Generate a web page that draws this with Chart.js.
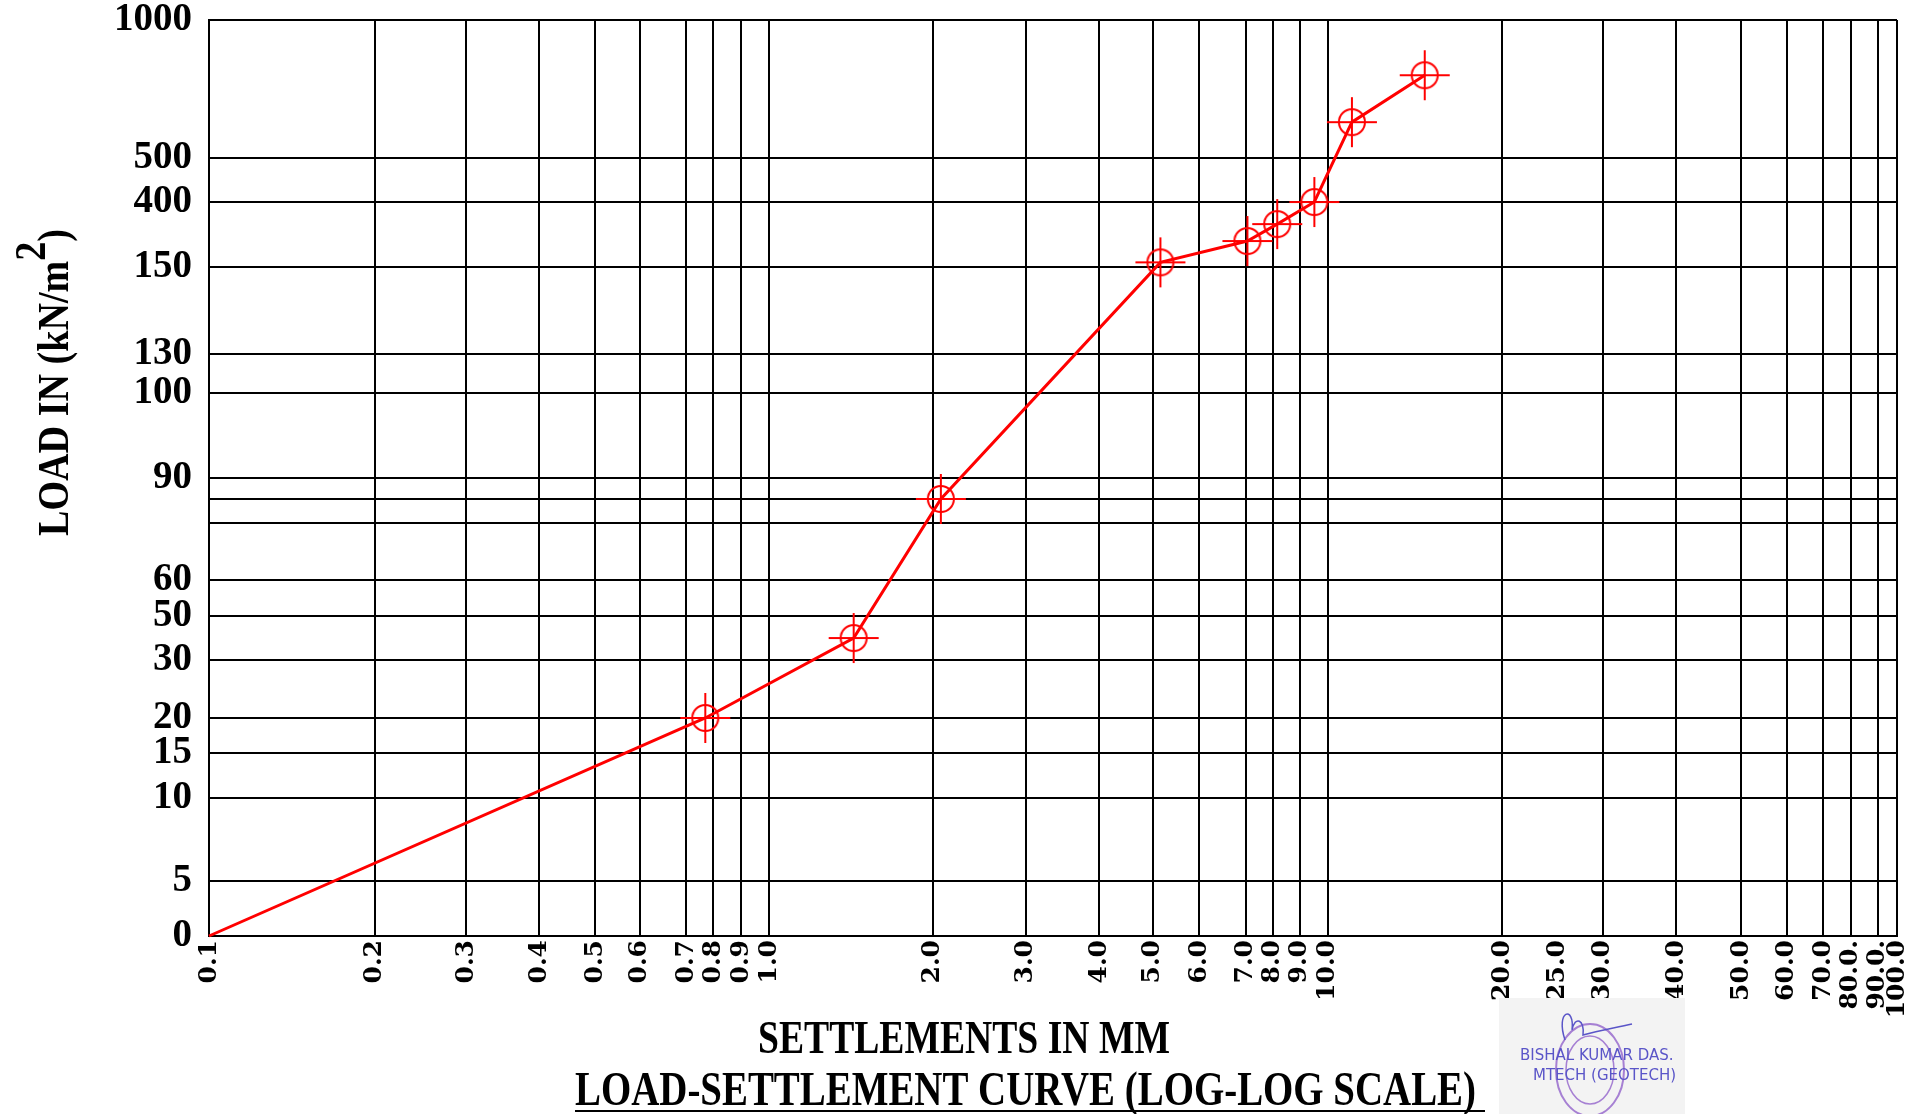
<!DOCTYPE html>
<html>
<head>
<meta charset="utf-8">
<script src="https://cdn.jsdelivr.net/npm/chart.js@4.4.1/dist/chart.umd.min.js"></script>
<style>
  html, body { margin: 0; padding: 0; background: #fff; }
  #wrap { width: 1932px; height: 1114px; position: relative; }
</style>
</head>
<body>
<div id="wrap"><canvas id="grafico"></canvas></div>
<script>
// Settlement (mm) and load (kN/m2)
const recalques = [0.1, 0.77, 1.43, 2.07, 5.15, 7.05, 8.15, 9.5, 11.0, 14.7];
const cargas = [0, 20, 40, 80, 168, 250, 315, 400, 630, 800];

// X axis ticks (hand-ruled log paper)
const xTicks = [0.1, 0.2, 0.3, 0.4, 0.5, 0.6, 0.7, 0.8, 0.9, 1, 2, 3, 4, 5, 6, 7, 8, 9, 10,
  20, 25, 30, 40, 50, 60, 70, 80, 90, 100];
const xTickLabels = ['0.1', '0.2', '0.3', '0.4', '0.5', '0.6', '0.7', '0.8', '0.9', '1.0',
  '2.0', '3.0', '4.0', '5.0', '6.0', '7.0', '8.0', '9.0', '10.0',
  '20.0', '25.0', '30.0', '40.0', '50.0', '60.0', '70.0', '80.0.', '90.0.', '100.0'];
// where each x grid line sits, as a fraction of the plot width
const xGridFrac = [0, 0.0983, 0.1523, 0.1955, 0.2287, 0.2553, 0.2826, 0.2986, 0.3152, 0.3318,
  0.4289, 0.4840, 0.5273, 0.5592, 0.5865, 0.6143, 0.6303, 0.6463, 0.6629,
  0.7660, 0.7989, 0.8258, 0.8691, 0.9076, 0.9348, 0.9562, 0.9727, 0.9887, 1];
// 25.0 has a label but no ruled line
const xSemLinha = [25];

// Y axis ticks (hand-ruled, not uniform)
const yTicks = [0, 5, 10, 15, 20, 30, 50, 60, 70, 80, 90, 100, 130, 150, 400, 500, 1000];
const yTickLabels = ['0', '5', '10', '15', '20', '30', '50', '60', '', '', '90', '100', '130', '150', '400', '500', '1000'];
// height of each y grid line as a fraction of the plot height
const yGridFrac = [0, 0.0600, 0.1507, 0.2003, 0.2380, 0.3013, 0.3493, 0.3886, 0.4514, 0.4771,
  0.5, 0.5928, 0.6354, 0.7303, 0.8013, 0.8493, 1];

// piecewise interpolation between ruled lines (log or linear between them)
function paraFracao(v, valores, fracoes, log) {
  const f = log ? Math.log10 : (a => a);
  if (v <= valores[0]) return fracoes[0];
  for (let i = 1; i < valores.length; i++) {
    if (v <= valores[i]) {
      const t = (f(v) - f(valores[i - 1])) / (f(valores[i]) - f(valores[i - 1]));
      return fracoes[i - 1] + t * (fracoes[i] - fracoes[i - 1]);
    }
  }
  return 1;
}
function deFracao(d, valores, fracoes, log) {
  if (d <= fracoes[0]) return valores[0];
  for (let i = 1; i < fracoes.length; i++) {
    if (d <= fracoes[i]) {
      const t = (d - fracoes[i - 1]) / (fracoes[i] - fracoes[i - 1]);
      if (log) {
        const a = Math.log10(valores[i - 1]), b = Math.log10(valores[i]);
        return Math.pow(10, a + t * (b - a));
      }
      return valores[i - 1] + t * (valores[i] - valores[i - 1]);
    }
  }
  return valores[valores.length - 1];
}

// scale class built on the linear one, with ruled lines at given places
function criarEscala(id, valores, fracoes, log) {
  class EscalaPapel extends Chart.LinearScale {
    buildTicks() {
      return valores.map(v => ({ value: v }));
    }
    getPixelForValue(v) {
      return this.getPixelForDecimal(paraFracao(v, valores, fracoes, log));
    }
    getValueForPixel(p) {
      return deFracao(this.getDecimalForPixel(p), valores, fracoes, log);
    }
  }
  EscalaPapel.id = id;
  Chart.register(EscalaPapel);
}
criarEscala('recalque', xTicks, xGridFrac, true);
criarEscala('carga', yTicks, yGridFrac, false);

// circle + cross marker
function criarMarcador() {
  const c = document.createElement('canvas');
  c.width = 52;
  c.height = 52;
  const g = c.getContext('2d');
  g.strokeStyle = '#ff0000';
  g.lineWidth = 2;
  g.beginPath();
  g.arc(26, 26, 13, 0, 2 * Math.PI);
  g.stroke();
  g.beginPath();
  g.moveTo(1, 26); g.lineTo(51, 26);
  g.moveTo(26, 1); g.lineTo(26, 51);
  g.stroke();
  return c;
}

// draws text squeezed horizontally to a given width
function textoAjustado(ctx, partes, largura) {
  let total = 0;
  partes.forEach(p => { total += ctx.measureText(p.t).width; });
  const sx = largura / total;
  ctx.save();
  ctx.scale(sx, 1);
  let x = 0;
  partes.forEach(p => {
    ctx.fillText(p.t, x, p.dy || 0);
    x += ctx.measureText(p.t).width;
  });
  ctx.restore();
}

const titulos = {
  id: 'titulos',
  afterDraw(chart) {
    const ctx = chart.ctx;
    ctx.save();
    ctx.fillStyle = '#000';
    ctx.textAlign = 'left';
    ctx.textBaseline = 'alphabetic';

    // y title
    ctx.save();
    ctx.translate(68, 536);
    ctx.rotate(-Math.PI / 2);
    ctx.font = 'bold 44px "Liberation Serif"';
    textoAjustado(ctx, [{ t: 'LOAD IN (kN/m' }, { t: '2', dy: -23 }, { t: ')' }], 307);
    ctx.restore();

    // x title
    ctx.save();
    ctx.translate(758, 1053);
    ctx.font = 'bold 46px "Liberation Serif"';
    textoAjustado(ctx, [{ t: 'SETTLEMENTS IN MM' }], 412);
    ctx.restore();

    // main title, underlined
    ctx.save();
    ctx.translate(575, 1105);
    ctx.font = 'bold 48px "Liberation Serif"';
    textoAjustado(ctx, [{ t: 'LOAD-SETTLEMENT CURVE (LOG-LOG SCALE)' }], 901);
    ctx.restore();
    ctx.strokeStyle = '#000';
    ctx.lineWidth = 2;
    ctx.beginPath();
    ctx.moveTo(575, 1111);
    ctx.lineTo(1485, 1111);
    ctx.stroke();

    // signature and stamp
    ctx.fillStyle = '#f3f3f3';
    ctx.fillRect(1499, 998, 186, 116);
    ctx.strokeStyle = 'rgba(140, 90, 200, 0.75)';
    ctx.lineWidth = 2;
    ctx.beginPath();
    ctx.ellipse(1590, 1070, 34, 46, 0, 0, 2 * Math.PI);
    ctx.stroke();
    ctx.lineWidth = 1.5;
    ctx.beginPath();
    ctx.ellipse(1590, 1070, 24, 34, 0, 0, 2 * Math.PI);
    ctx.stroke();
    ctx.strokeStyle = '#5a55c8';
    ctx.lineWidth = 1.5;
    ctx.beginPath();
    ctx.moveTo(1565, 1040);
    ctx.bezierCurveTo(1555, 1010, 1575, 1005, 1572, 1030);
    ctx.bezierCurveTo(1575, 1015, 1585, 1020, 1583, 1035);
    ctx.bezierCurveTo(1600, 1030, 1615, 1028, 1632, 1024);
    ctx.stroke();
    ctx.fillStyle = '#5a55c8';
    ctx.font = '15px "DejaVu Sans"';
    ctx.fillText('BISHAL KUMAR DAS.', 1520, 1060);
    ctx.fillText('MTECH (GEOTECH)', 1533, 1080);
    ctx.restore();
  }
};

const bordaPreta = { color: '#000', width: 2 };

new Chart(document.getElementById('grafico'), {
  type: 'line',
  data: {
    datasets: [{
      data: recalques.map((s, i) => ({ x: s, y: cargas[i] })),
      borderColor: '#ff0000',
      borderWidth: 3,
      tension: 0,
      fill: false,
      pointStyle: criarMarcador(),
      pointRadius: recalques.map((s, i) => (i === 0 ? 0 : 14)),
      clip: false
    }]
  },
  options: {
    responsive: true,
    maintainAspectRatio: false,
    animation: false,
    layout: { padding: { left: 0, top: 20, right: 35, bottom: 78 } },
    plugins: { legend: { display: false }, tooltip: { enabled: false } },
    scales: {
      x: {
        type: 'recalque',
        min: 0.1,
        max: 100,
        afterFit: s => { s.height = 100; s.paddingLeft = 0; s.paddingRight = 0; },
        grid: {
          color: c => (c.tick && xSemLinha.includes(c.tick.value) ? 'rgba(0,0,0,0)' : '#000'),
          lineWidth: 2,
          drawTicks: false
        },
        border: bordaPreta,
        ticks: {
          autoSkip: false,
          minRotation: 90,
          maxRotation: 90,
          padding: 4,
          color: '#000',
          font: { family: 'DejaVu Serif', weight: 'bold', size: 25 },
          callback: (v, i) => xTickLabels[i]
        }
      },
      y: {
        type: 'carga',
        min: 0,
        max: 1000,
        afterFit: s => { s.width = 209; s.paddingTop = 0; s.paddingBottom = 0; },
        grid: { color: '#000', lineWidth: 2, drawTicks: false },
        border: bordaPreta,
        ticks: {
          autoSkip: false,
          padding: 17,
          color: '#000',
          font: { family: 'Liberation Serif', weight: 'bold', size: 39 },
          callback: (v, i) => yTickLabels[i]
        }
      }
    }
  },
  plugins: [titulos]
});
</script>
</body>
</html>
